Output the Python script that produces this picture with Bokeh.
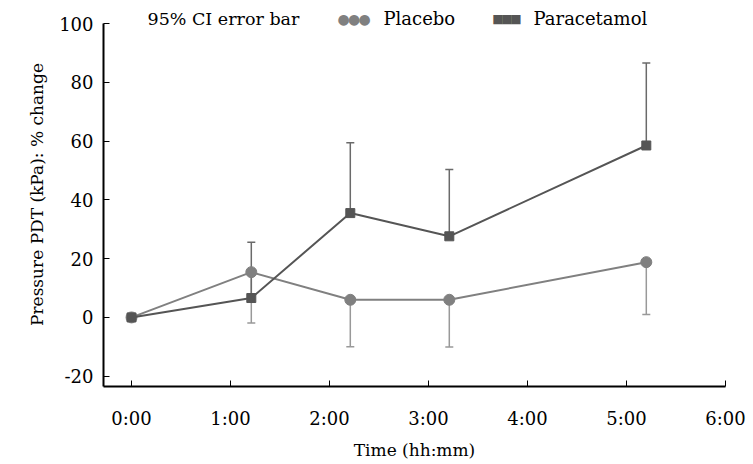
from bokeh.plotting import figure
from bokeh.models import ColumnDataSource, Whisker, TeeHead, FixedTicker, Range1d, Label
from bokeh.embed import file_html
from bokeh.resources import INLINE

# ---- data ----
time_h = [0, 1.21, 2.21, 3.21, 5.2]
placebo = [0, 15.4, 6.0, 6.0, 18.8]
placebo_ci_lower = [0, -1.9, -10.0, -10.1, 1.0]
paracetamol = [0, 6.6, 35.5, 27.6, 58.5]
paracetamol_ci_upper = [0, 25.6, 59.4, 50.3, 86.6]
x_ticks = [0, 1, 2, 3, 4, 5, 6]
x_tick_labels = ["0:00", "1:00", "2:00", "3:00", "4:00", "5:00", "6:00"]
y_ticks = [-20, 0, 20, 40, 60, 80, 100]
y_tick_labels = ["-20", "0", "20", "40", "60", "80", "100"]

FONT = "DejaVu Serif"
C_PLA = "#808080"
C_PAR = "#555555"

W, H = 753, 464
Y_MIN, Y_MAX = -23.5, 100
TOP_PAD = 21  # px of frame above the 100 line, holding the legend
px_per_unit = (386 - 23) / (Y_MAX - Y_MIN)
p = figure(width=W, height=H, output_backend="svg", toolbar_location=None,
           x_range=Range1d(-0.283, 6.0),
           y_range=Range1d(Y_MIN, Y_MAX + TOP_PAD / px_per_unit),
           min_border_left=103, min_border_right=W - 725, min_border_top=23 - TOP_PAD,
           min_border_bottom=H - 386)
p.outline_line_color = None
p.xgrid.visible = False
p.ygrid.visible = False

# error bars (one-sided, as in the reference)
src_pla_err = ColumnDataSource(dict(x=time_h[1:], lo=placebo_ci_lower[1:], hi=placebo[1:]))
src_par_err = ColumnDataSource(dict(x=time_h[1:], lo=paracetamol[1:], hi=paracetamol_ci_upper[1:]))
w1 = Whisker(source=src_pla_err, base="x", lower="lo", upper="hi", dimension="height",
             line_color="#999999", line_width=1.5,
             lower_head=TeeHead(size=8, line_color="#999999", line_width=1.5), upper_head=None)
w2 = Whisker(source=src_par_err, base="x", lower="lo", upper="hi", dimension="height",
             line_color="#6a6a6a", line_width=1.5,
             upper_head=TeeHead(size=8, line_color="#6a6a6a", line_width=1.5), lower_head=None)
p.add_layout(w1)
p.add_layout(w2)

src = ColumnDataSource(dict(t=time_h, pla=placebo, par=paracetamol))
p.line("t", "pla", source=src, line_color=C_PLA, line_width=2)
p.scatter("t", "pla", source=src, marker="circle", size=11, fill_color=C_PLA, line_color=C_PLA)
p.line("t", "par", source=src, line_color=C_PAR, line_width=2)
p.scatter("t", "par", source=src, marker="square", size=9, fill_color=C_PAR, line_color=C_PAR)

# axes
for ax in (p.xaxis[0], p.yaxis[0]):
    ax.axis_line_color = "black"
    ax.axis_line_width = 2
    ax.major_tick_in = 6
    ax.major_tick_out = 0
    ax.major_tick_line_color = "black"
    ax.major_tick_line_width = 1
    ax.minor_tick_line_color = None
    ax.major_label_text_font = FONT
    ax.major_label_text_font_size = "18px"
    ax.major_label_text_color = "black"
    ax.axis_label_text_font = FONT
    ax.axis_label_text_font_size = "17px"
    ax.axis_label_text_font_style = "normal"
    ax.axis_label_text_color = "black"

p.yaxis.bounds = (Y_MIN, Y_MAX)
p.xaxis.ticker = FixedTicker(ticks=x_ticks)
p.xaxis.major_label_overrides = {t: l for t, l in zip(x_ticks, x_tick_labels)}
p.xaxis.axis_label = "Time (hh:mm)"
p.xaxis.major_label_standoff = 21
p.xaxis.axis_label_standoff = 8

p.yaxis.ticker = FixedTicker(ticks=y_ticks)
p.yaxis.major_label_overrides = {t: l for t, l in zip(y_ticks, y_tick_labels)}
p.yaxis.axis_label = "Pressure PDT (kPa): % change"
p.yaxis.major_label_standoff = 10
p.yaxis.axis_label_standoff = 9

# legend (drawn as text in the top strip of the frame)
leg_y = 386 - 18
def lab(x, text, color="black", font=FONT, size="18px", align="left"):
    p.add_layout(Label(x=x, y=leg_y, x_units="screen", y_units="screen", text=text,
                       text_font=font, text_font_size=size, text_color=color,
                       text_baseline="middle", text_align=align))

lab(44, "95% CI error bar", size="17.5px")
for cx in (240, 250.5, 261):
    lab(cx, "\u25cf", C_PLA, "DejaVu Sans", "14px", "center")
lab(280, "Placebo")
for cx in (394.5, 403.5, 412.5):
    lab(cx, "\u25a0", C_PAR, "DejaVu Sans", "12px", "center")
lab(430, "Paracetamol")

open("out.html", "w").write(file_html(p, INLINE))
